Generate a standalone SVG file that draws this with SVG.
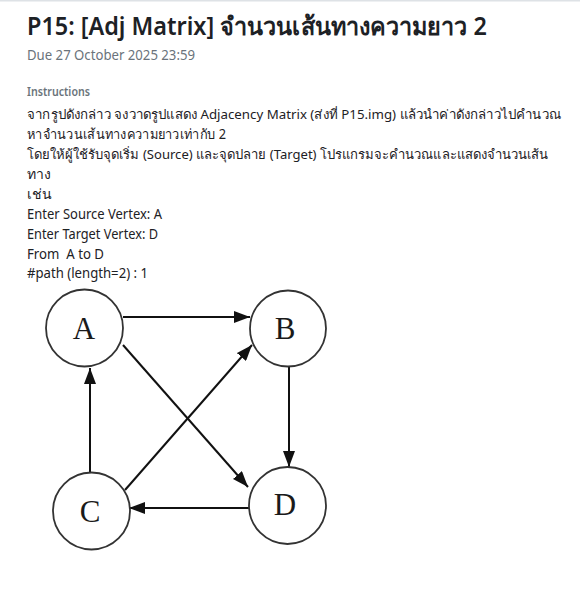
<svg xmlns="http://www.w3.org/2000/svg" width="580" height="590" viewBox="0 0 580 590">
<defs>
<style>
.title{font-family:"Noto Sans","Liberation Sans",sans-serif;font-size:25px;font-weight:600;fill:#1d2125}
.due{font-family:"Noto Sans","Liberation Sans",sans-serif;font-size:14.5px;fill:#6a737b}
.ins{font-family:"Noto Sans","Liberation Sans",sans-serif;font-size:12px;font-weight:600;fill:#6a737b}
.body{font-family:"Noto Sans","Liberation Sans",sans-serif;font-size:14px;fill:#1d2125}
.body.long{font-size:13px}
.node circle{fill:#fff;stroke:#333;stroke-width:1.8}
.node text{font-family:"Liberation Serif",serif;font-size:31px;fill:#1a1a1a;text-anchor:middle}
.edge{stroke:#111;stroke-width:2;fill:none;marker-end:url(#arr)}
</style>
<marker id="arr" viewBox="0 0 16 12" refX="16" refY="6" markerWidth="16" markerHeight="12" markerUnits="userSpaceOnUse" orient="auto">
<path d="M0,0 L16,6 L0,12 z" fill="#111"/>
</marker>
</defs>
<rect width="580" height="590" fill="#fff"/>
<rect width="580" height="1.5" fill="#dee2e6"/>
<g id="header">
<text class="title" x="27" y="35" textLength="460" lengthAdjust="spacingAndGlyphs">P15: [Adj Matrix] จำนวนเส้นทางความยาว 2</text>
<text class="due" x="27" y="60" textLength="168" lengthAdjust="spacingAndGlyphs">Due 27 October 2025 23:59</text>
<text class="ins" x="27" y="96" textLength="63" lengthAdjust="spacingAndGlyphs">Instructions</text>
<text class="body long" x="27" y="119" textLength="534" lengthAdjust="spacingAndGlyphs">จากรูปดังกล่าว จงวาดรูปแสดง Adjacency Matrix (ส่งที่ P15.img) แล้วนำค่าดังกล่าวไปคำนวณ</text>
<text class="body" x="27" y="139" textLength="199" lengthAdjust="spacingAndGlyphs">หาจำนวนเส้นทางความยาวเท่ากับ 2</text>
<text class="body long" x="27" y="159" textLength="521" lengthAdjust="spacingAndGlyphs">โดยให้ผู้ใช้รับจุดเริ่ม (Source) และจุดปลาย (Target) โปรแกรมจะคำนวณและแสดงจำนวนเส้น</text>
<text class="body" x="27" y="179">ทาง</text>
<text class="body" x="27" y="199">เช่น</text>
<text class="body" x="27" y="219" textLength="135" lengthAdjust="spacingAndGlyphs">Enter Source Vertex: A</text>
<text class="body" x="27" y="239" textLength="131" lengthAdjust="spacingAndGlyphs">Enter Target Vertex: D</text>
<text class="body" x="27" y="259" textLength="77" lengthAdjust="spacingAndGlyphs" xml:space="preserve">From  A to D</text>
<text class="body" x="27" y="278" textLength="121" lengthAdjust="spacingAndGlyphs">#path (length=2) : 1</text>
</g>
<g id="connectors">
<line class="edge" x1="123" y1="317" x2="250" y2="317"/>
<line class="edge" x1="289" y1="367" x2="289" y2="467"/>
<line class="edge" x1="123" y1="345" x2="248" y2="487"/>
<line class="edge" x1="125" y1="490" x2="252" y2="345"/>
<line class="edge" x1="90" y1="472" x2="90" y2="368"/>
<line class="edge" x1="249" y1="508" x2="129" y2="508"/>
</g>
<g id="node-A" class="node"><circle cx="84.5" cy="328" r="38.5"/><text x="84" y="339">A</text></g>
<g id="node-B" class="node"><circle cx="288" cy="328.5" r="38"/><text x="285" y="339">B</text></g>
<g id="node-C" class="node"><circle cx="91.5" cy="511" r="38.5"/><text x="90" y="522">C</text></g>
<g id="node-D" class="node"><circle cx="287.5" cy="505.5" r="38.5"/><text x="285" y="515">D</text></g>
</svg>
